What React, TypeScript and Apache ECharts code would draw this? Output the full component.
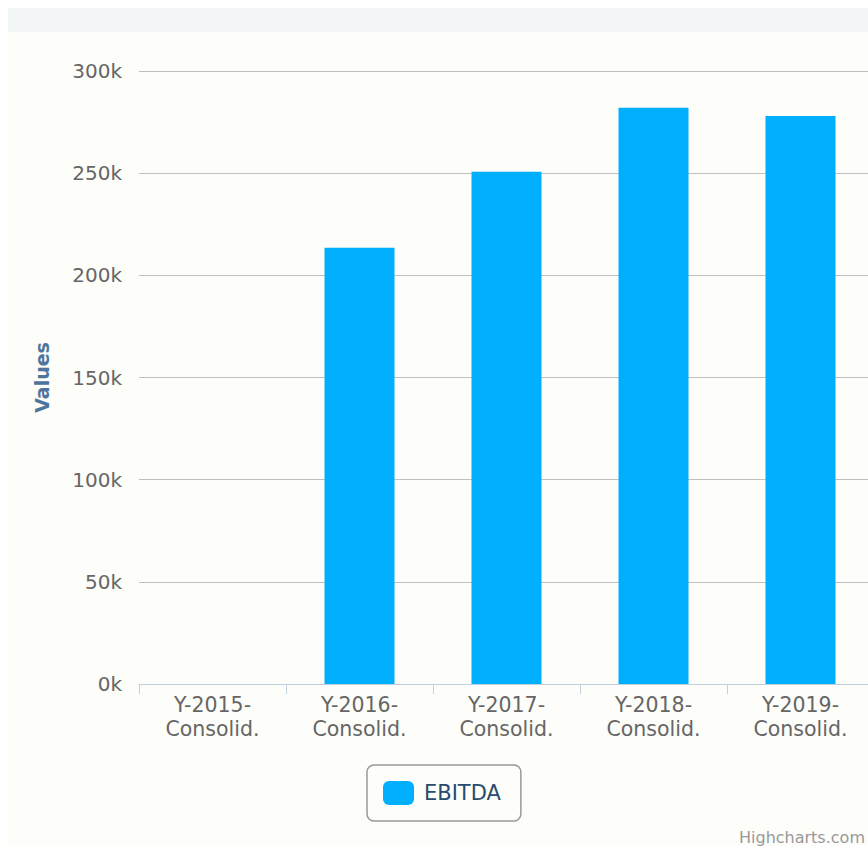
import React, { useEffect, useRef } from "react";
import * as echarts from "echarts";

const categories = [
  "Y-2015-Consolid.",
  "Y-2016-Consolid.",
  "Y-2017-Consolid.",
  "Y-2018-Consolid.",
  "Y-2019-Consolid.",
];
const seriesName = "EBITDA";
const ebitdaValues = [0, 213500, 250700, 282000, 278000];
const yTicks = { min: 0, max: 300000, interval: 50000 };
const yAxisTitle = "Values";
const creditText = "Highcharts.com";

const FONT = "DejaVu Sans";

export default function App() {
  const ref = useRef<HTMLDivElement>(null);
  useEffect(() => {
    if (!ref.current) return;
    const chart = echarts.init(ref.current, undefined, { renderer: "svg" });
    chart.setOption({
      animation: false,
      backgroundColor: "#fdfdf9",
      textStyle: { fontFamily: FONT },
      graphic: [
        {
          type: "rect",
          left: 0,
          top: 0,
          shape: { width: 900, height: 24 },
          style: { fill: "#f3f6f6" },
          silent: true,
        },
        {
          type: "text",
          left: 731,
          top: 821,
          style: {
            text: creditText,
            fill: "#999999",
            font: `16px "${FONT}"`,
          },
        },
      ],
      grid: { left: 131, right: 12, top: 63, bottom: 164, containLabel: false },
      legend: {
        left: 359,
        top: 757,
        data: [seriesName],
        icon: "roundRect",
        itemWidth: 31,
        itemHeight: 24,
        padding: [16, 20, 16, 16],
        borderColor: "#999999",
        borderWidth: 1.5,
        borderRadius: 7,
        textStyle: {
          color: "#274b6d",
          fontSize: 21,
          fontFamily: FONT,
          padding: [0, 0, 0, 5],
        },
      },
      xAxis: {
        type: "category",
        data: categories,
        axisLine: { lineStyle: { color: "#c0d0e0", width: 1 } },
        axisTick: { show: true, length: 10, lineStyle: { color: "#c0d0e0" } },
        axisLabel: {
          color: "#666666",
          fontSize: 20.5,
          fontFamily: FONT,
          lineHeight: 24,
          margin: 9,
          formatter: (v: string) => v.replace(/^(Y-\d{4}-)/, "$1\n"),
        },
        splitLine: { show: false },
      },
      yAxis: {
        type: "value",
        min: yTicks.min,
        max: yTicks.max,
        interval: yTicks.interval,
        name: yAxisTitle,
        nameLocation: "middle",
        nameRotate: 90,
        nameGap: 88,
        nameTextStyle: {
          color: "#4d759e",
          fontWeight: "bold",
          fontSize: 19,
          fontFamily: FONT,
        },
        axisLine: { show: false },
        axisTick: { show: false },
        axisLabel: {
          color: "#666666",
          fontSize: 20,
          fontFamily: FONT,
          margin: 17,
          formatter: (v: number) => `${v / 1000}k`,
        },
        splitLine: { lineStyle: { color: "#c0c0c0", width: 1 } },
      },
      series: [
        {
          name: seriesName,
          type: "bar",
          data: ebitdaValues,
          barWidth: 70,
          itemStyle: { color: "#00b0ff" },
        },
      ],
    });
    return () => chart.dispose();
  }, []);
  return (
    <div
      style={{
        position: "fixed",
        left: 8,
        top: 8,
        width: 860,
        height: 838,
        overflow: "hidden",
      }}
    >
      <div ref={ref} style={{ width: 878, height: 840 }} />
    </div>
  );
}
